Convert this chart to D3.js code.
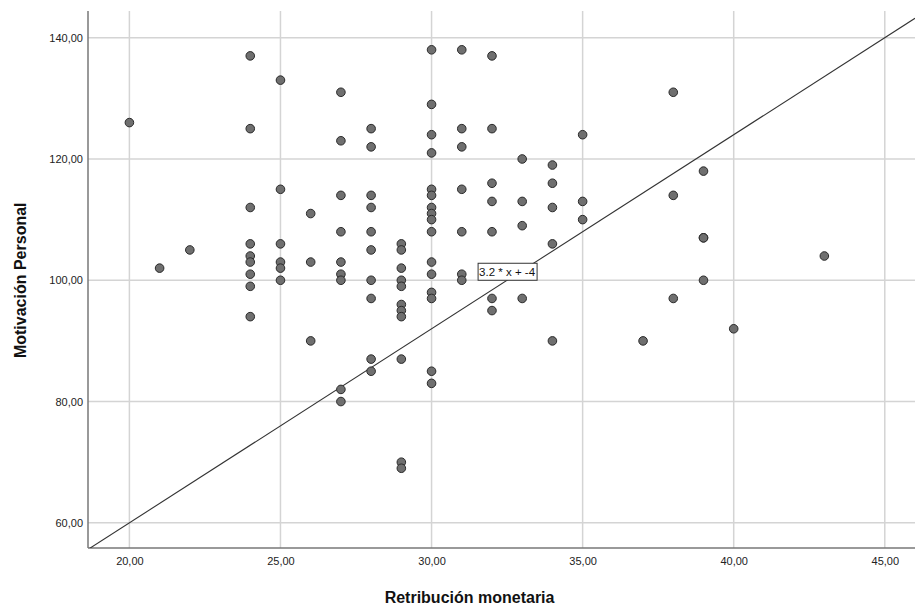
<!DOCTYPE html>
<html>
<head>
<meta charset="utf-8">
<script src="https://cdnjs.cloudflare.com/ajax/libs/d3/7.8.5/d3.min.js"></script>
<style>
  body { margin: 0; background: #fff; }
  .grid line { stroke: #d4d4d4; stroke-width: 1.5; }
  .axis path, .axis line { stroke: #777; }
  .axis text { font-family: "Liberation Sans", Arial, sans-serif; font-size: 11px; fill: #222; }
  .titulo { font-family: "Liberation Sans", Arial, sans-serif; font-size: 16px; font-weight: bold; fill: #111; }
</style>
</head>
<body>
<div id="graph"></div>
<script>
// valores, agrupados por retribucion
let retribucion = [20, 21, 22, 24, 25, 26, 27, 28, 29, 30, 31, 32, 33, 34, 35, 37, 38, 39, 40, 43];
let motivacion = [
  [126],
  [102],
  [105],
  [137, 125, 112, 106, 104, 103, 101, 99, 94],
  [133, 115, 106, 103, 102, 100],
  [111, 103, 90],
  [131, 123, 114, 108, 103, 101, 100, 82, 80],
  [125, 122, 114, 112, 108, 105, 100, 97, 87, 85],
  [106, 105, 102, 100, 99, 96, 95, 94, 87, 70, 69],
  [138, 129, 124, 121, 115, 114, 112, 111, 110, 108, 103, 101, 98, 97, 85, 83],
  [138, 125, 122, 115, 108, 101, 100],
  [137, 125, 116, 113, 108, 97, 95],
  [120, 113, 109, 97],
  [119, 116, 112, 106, 90],
  [124, 113, 110],
  [90],
  [131, 114, 97],
  [118, 107, 107, 100],
  [92],
  [104]
];
let xTicks = [20, 25, 30, 35, 40, 45];
let yTicks = [60, 80, 100, 120, 140];
let pendiente = 3.2;
let intercepto = -4;

var svgWidth = 917;
var svgHeight = 609;
var margin = { top: 11, right: 2, bottom: 61, left: 88 };
var chartWidth = svgWidth - margin.left - margin.right;
var chartHeight = svgHeight - margin.top - margin.bottom;

var svg = d3.select("#graph")
  .append("svg")
  .attr("width", svgWidth)
  .attr("height", svgHeight);

var chartGroup = svg.append("g")
  .attr("transform", `translate(${margin.left}, ${margin.top})`);

var xScale = d3.scaleLinear().domain([18.63, 46.0]).range([0, chartWidth]);
var yScale = d3.scaleLinear().domain([55.85, 144.4]).range([chartHeight, 0]);

// formato con coma decimal
var fmt = d => d3.format(".2f")(d).replace(".", ",");

// lineas de cuadricula
chartGroup.append("g").classed("grid", true)
  .selectAll("line").data(xTicks).join("line")
  .attr("x1", d => xScale(d)).attr("x2", d => xScale(d))
  .attr("y1", 0).attr("y2", chartHeight);
chartGroup.append("g").classed("grid", true)
  .selectAll("line").data(yTicks).join("line")
  .attr("x1", 0).attr("x2", chartWidth)
  .attr("y1", d => yScale(d)).attr("y2", d => yScale(d));

// ejes
var bottomAxis = d3.axisBottom(xScale).tickValues(xTicks).tickFormat(fmt).tickSize(0).tickPadding(9);
var leftAxis = d3.axisLeft(yScale).tickValues(yTicks).tickFormat(fmt).tickSize(0).tickPadding(5);

chartGroup.append("g").classed("axis", true)
  .attr("transform", `translate(0, ${chartHeight})`)
  .call(bottomAxis)
  .select(".domain").attr("d", `M0,0H${chartWidth}`).attr("stroke-width", 1.5);
chartGroup.append("g").classed("axis", true)
  .call(leftAxis)
  .select(".domain").attr("d", `M0,0V${chartHeight}`).attr("stroke-width", 1.5);

// linea de referencia
svg.append("clipPath").attr("id", "clip")
  .append("rect").attr("width", chartWidth).attr("height", chartHeight);

var xDom = xScale.domain();
var drawLine = d3.line()
  .x(d => xScale(d))
  .y(d => yScale(pendiente * d + intercepto));

chartGroup.append("path")
  .attr("clip-path", "url(#clip)")
  .attr("d", drawLine(xDom))
  .attr("fill", "none")
  .attr("stroke", "#333")
  .attr("stroke-width", 1.1);

// puntos
var puntos = [];
retribucion.forEach(function (x, i) {
  motivacion[i].forEach(function (y) {
    puntos.push({ x: x, y: y });
  });
});

chartGroup.append("g")
  .selectAll("circle").data(puntos).join("circle")
  .attr("cx", d => xScale(d.x))
  .attr("cy", d => yScale(d.y))
  .attr("r", 4.3)
  .attr("fill", "#6f6f6f")
  .attr("stroke", "#2a2a2a")
  .attr("stroke-width", 1);

// etiqueta de la ecuacion
var xEtiqueta = (100 - intercepto) / pendiente;
var etiqueta = chartGroup.append("g")
  .attr("transform", `translate(${xScale(xEtiqueta)}, ${yScale(100)})`);
etiqueta.append("rect")
  .attr("x", -29).attr("y", -17).attr("width", 59).attr("height", 17)
  .attr("fill", "#fff").attr("stroke", "#333").attr("stroke-width", 1);
etiqueta.append("text")
  .attr("x", 0).attr("y", -4)
  .attr("text-anchor", "middle")
  .style("font-family", "'Liberation Sans', Arial, sans-serif")
  .style("font-size", "11.5px")
  .attr("fill", "#111")
  .text("3.2 * x + -4");

// titulos
svg.append("text").classed("titulo", true)
  .attr("x", margin.left + xScale(30) + 38)
  .attr("y", 603)
  .attr("text-anchor", "middle")
  .text("Retribución monetaria");

svg.append("text").classed("titulo", true)
  .attr("transform", `translate(26, ${margin.top + yScale(100)}) rotate(-90)`)
  .attr("text-anchor", "middle")
  .text("Motivación Personal");
</script>
</body>
</html>
